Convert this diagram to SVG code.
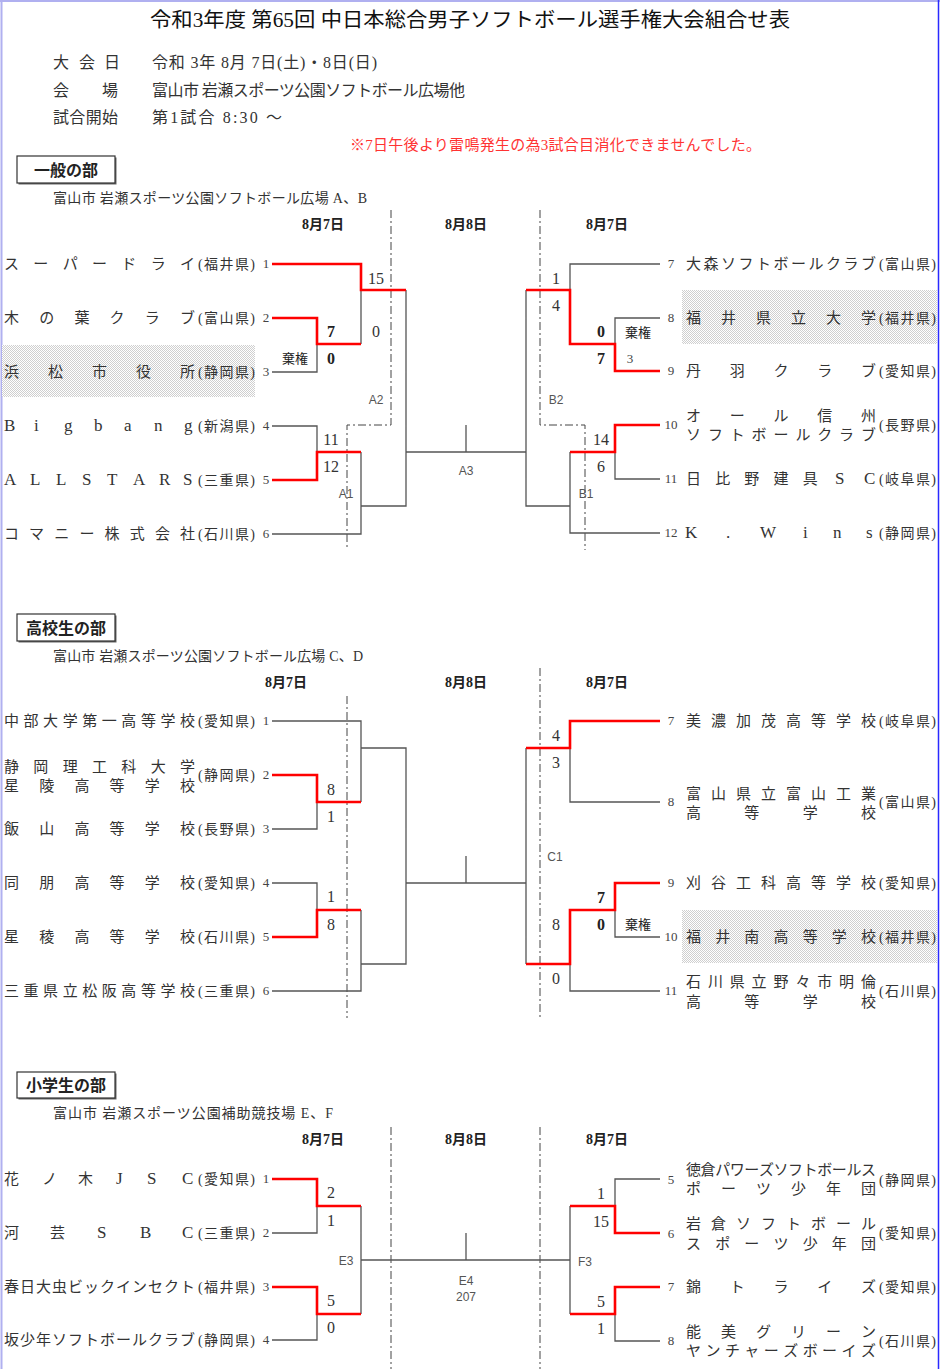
<svg xmlns="http://www.w3.org/2000/svg" width="940" height="1369" viewBox="0 0 940 1369">
<style>
.nm{font-family:"Liberation Serif","Noto Sans CJK JP",serif;font-size:15px;fill:#333}
.lt{font-size:17px}
.pf{font-family:"Liberation Serif","Noto Sans CJK JP",serif;font-size:14px;fill:#333}
.no{font-family:"Liberation Serif",serif;font-size:13px;fill:#444;text-anchor:middle}
.sc{font-family:"Liberation Serif",serif;font-size:16px;fill:#333;text-anchor:middle}
.b{font-weight:bold;fill:#222}
.kk{font-family:"Noto Sans CJK JP",sans-serif;font-size:13px;fill:#222;text-anchor:middle}
.lb{font-family:"Liberation Sans",sans-serif;font-size:12px;fill:#555;text-anchor:middle}
.dt{font-family:"Liberation Serif","Noto Sans CJK JP",serif;font-size:14px;font-weight:bold;fill:#222;text-anchor:middle}
.inf{font-family:"Liberation Serif","Noto Sans CJK JP",serif;font-size:16px;fill:#333}
.ven{font-family:"Liberation Serif","Noto Sans CJK JP",serif;font-size:14px;fill:#333}
.hd{font-family:"Liberation Serif","Noto Sans CJK JP",serif;font-size:16px;font-weight:bold;fill:#222;text-anchor:middle}
.box{fill:#fff;stroke:#333;stroke-width:1.2}
.ln{fill:none;stroke:#555;stroke-width:1.3}
.rd{fill:none;stroke:#f00;stroke-width:2.6}
.dd{fill:none;stroke:#444;stroke-width:1;stroke-dasharray:8 3 2 3}
</style>
<defs>
<pattern id="dots" width="2" height="2" patternUnits="userSpaceOnUse"><rect width="2" height="2" fill="#fff"/><rect width="1" height="1" fill="#cfcfcf"/><rect x="1" y="1" width="1" height="1" fill="#cfcfcf"/></pattern>
</defs>
<rect width="940" height="1369" fill="#fff"/>
<g id="frame">
<line x1="1.5" y1="0" x2="1.5" y2="1369" stroke="#b0b0f0" stroke-width="2"/>
<line x1="0" y1="1" x2="940" y2="1" stroke="#b0b0f0" stroke-width="2"/>
<line x1="938.5" y1="0" x2="938.5" y2="1369" stroke="#2a2aff" stroke-width="1.5"/>
</g>
<g id="title">
<text x="150" y="27" textLength="640" lengthAdjust="spacingAndGlyphs" style="font-family:'Liberation Serif','Noto Sans CJK JP',serif;font-size:20px;fill:#111">令和3年度 第65回 中日本総合男子ソフトボール選手権大会組合せ表</text>
</g>
<g id="info">
<text class="inf" x="53 79 104" y="68">大会日</text>
<text class="inf" x="152" y="68" textLength="225">令和 3年 8月 7日(土)・8日(日)</text>
<text class="inf" x="53 102" y="96">会場</text>
<text class="inf" x="152" y="96" textLength="313">富山市  岩瀬スポーツ公園ソフトボール広場他</text>
<text class="inf" x="53" y="123" textLength="65">試合開始</text>
<text class="inf" x="152" y="123" textLength="130">第1試合  8:30 〜</text>
<text x="350" y="150" textLength="411" style="font-family:'Liberation Serif','Noto Sans CJK JP',serif;font-size:15px;fill:#ff3333">※7日午後より雷鳴発生の為3試合目消化できませんでした。</text>
</g>

<g id="shading">
<rect x="2" y="345" width="253" height="52" fill="url(#dots)"/>
<rect x="682" y="290" width="255" height="54" fill="url(#dots)"/>
<rect x="682" y="910" width="255" height="53" fill="url(#dots)"/>
</g>

<!-- ===== Section 1 ===== -->
<g id="sec1-header">
<rect x="18.5" y="157.5" width="98" height="27" fill="#666"/>
<rect class="box" x="17" y="156" width="98" height="27"/>
<text class="hd" x="66" y="176">一般の部</text>
<text class="ven" x="53" y="203" textLength="314">富山市  岩瀬スポーツ公園ソフトボール広場  A、B</text>
<text class="dt" x="323" y="229">8月7日</text>
<text class="dt" x="466" y="229">8月8日</text>
<text class="dt" x="607" y="229">8月7日</text>
</g>
<g id="connectors-1">
<path class="dd" d="M391 210V425H347V550"/>
<path class="dd" d="M540 210V425H585V550"/>
<path class="ln" d="M361 290V344M272 372H317V344M272 426H317V452M272 534H361V452M361 506H406V290M406 452H526M466 452V425"/>
<path class="ln" d="M660 264H570V290M660 318H615V344M660 479H615V452M570 452V533H660M570 506H526V290"/>
<path class="rd" d="M272 264H361V290H406M272 318H317V344H361M272 480H317V452H361"/>
<path class="rd" d="M526 290H570V344H615V371H660M660 425H615V452H570"/>
</g>
<g id="scores-1">
<text class="sc" x="376" y="284">15</text>
<text class="sc" x="376" y="337">0</text>
<text class="sc b" x="331" y="337">7</text>
<text class="sc b" x="331" y="364">0</text>
<text class="kk" x="295" y="363">棄権</text>
<text class="sc" x="331" y="445">11</text>
<text class="sc" x="331" y="472">12</text>
<text class="lb" x="346" y="498">A1</text>
<text class="lb" x="376" y="404">A2</text>
<text class="lb" x="466" y="475">A3</text>
<text class="sc" x="556" y="284">1</text>
<text class="sc" x="556" y="311">4</text>
<text class="sc b" x="601" y="337">0</text>
<text class="sc b" x="601" y="364">7</text>
<text class="kk" x="638" y="337">棄権</text>
<text class="no" x="630" y="363">3</text>
<text class="sc" x="601" y="445">14</text>
<text class="sc" x="601" y="472">6</text>
<text class="lb" x="586" y="498">B1</text>
<text class="lb" x="556" y="404">B2</text>
</g>
<g id="s1-t1"><text class="nm" x="4 33.3 62.7 92 121.3 150.7 180" y="269">スーパードライ</text><text class="pf" x="198" y="269" textLength="57">(福井県)</text><text class="no" x="266" y="268">1</text></g>
<g id="s1-t2"><text class="nm" x="4 39.2 74.4 109.6 144.8 180" y="323">木の葉クラブ</text><text class="pf" x="198" y="323" textLength="57">(富山県)</text><text class="no" x="266" y="322">2</text></g>
<g id="s1-t3"><text class="nm" x="4 48 92 136 180" y="377">浜松市役所</text><text class="pf" x="198" y="377" textLength="57">(静岡県)</text><text class="no" x="266" y="376">3</text></g>
<g id="s1-t4"><text class="nm lt" x="4 34 64 94 124 154 184" y="431">Bigbang</text><text class="pf" x="198" y="431" textLength="57">(新潟県)</text><text class="no" x="266" y="430">4</text></g>
<g id="s1-t5"><text class="nm lt" x="4 30 56 82 107 133 159 183" y="485">ALLSTARS</text><text class="pf" x="198" y="485" textLength="57">(三重県)</text><text class="no" x="266" y="484">5</text></g>
<g id="s1-t6"><text class="nm" x="4 29.1 54.3 79.4 104.6 129.7 154.9 180" y="539">コマニー株式会社</text><text class="pf" x="198" y="539" textLength="57">(石川県)</text><text class="no" x="266" y="538">6</text></g>
<g id="s1-t7"><text class="no" x="671" y="268">7</text><text class="nm" x="686 703.5 721 738.5 756 773.5 791 808.5 826 843.5 861" y="269">大森ソフトボールクラブ</text><text class="pf" x="879" y="269" textLength="57">(富山県)</text></g>
<g id="s1-t8"><text class="no" x="671" y="322">8</text><text class="nm" x="686 721 756 791 826 861" y="323">福井県立大学</text><text class="pf" x="879" y="323" textLength="57">(福井県)</text></g>
<g id="s1-t9"><text class="no" x="671" y="375">9</text><text class="nm" x="686 729.8 773.5 817.3 861" y="376">丹羽クラブ</text><text class="pf" x="879" y="376" textLength="57">(愛知県)</text></g>
<g id="s1-t10"><text class="no" x="671" y="429">10</text><text class="nm" x="686 729.8 773.5 817.3 861" y="421">オール信州</text><text class="nm" x="686 707.9 729.8 751.6 773.5 795.4 817.3 839.1 861" y="440">ソフトボールクラブ</text><text class="pf" x="879" y="430" textLength="57">(長野県)</text></g>
<g id="s1-t11"><text class="no" x="671" y="483">11</text><text class="nm" x="686 715.2 744.3 773.5 802.7" y="484">日比野建具</text><text class="nm lt" x="835 864" y="484">SC</text><text class="pf" x="879" y="484" textLength="57">(岐阜県)</text></g>
<g id="s1-t12"><text class="no" x="671" y="537">12</text><text class="nm lt" x="685 726 760 803 833 866" y="538">K.Wins</text><text class="pf" x="879" y="538" textLength="57">(静岡県)</text></g>

<!-- ===== Section 2 ===== -->
<g id="sec2-header">
<rect x="18.5" y="615.5" width="98" height="27" fill="#666"/>
<rect class="box" x="17" y="614" width="98" height="27"/>
<text class="hd" x="66" y="634">高校生の部</text>
<text class="ven" x="53" y="661" textLength="310">富山市  岩瀬スポーツ公園ソフトボール広場 C、D</text>
<text class="dt" x="286" y="687">8月7日</text>
<text class="dt" x="466" y="687">8月8日</text>
<text class="dt" x="607" y="687">8月7日</text>
</g>
<g id="connectors-2">
<path class="dd" d="M347 696V1018"/>
<path class="dd" d="M540 668V1018"/>
<path class="ln" d="M272 721H361V802M272 829H317V802M361 748H406V964H361M272 883H317V910M361 910V991H272M406 883H526M466 883V856"/>
<path class="ln" d="M570 748V802H660M526 748V964M660 937H615V910M570 964V991H660"/>
<path class="rd" d="M272 775H317V802H361M272 937H317V910H361"/>
<path class="rd" d="M660 721H570V748H526M660 883H615V910H570V964H526"/>
</g>
<g id="scores-2">
<text class="sc" x="331" y="795">8</text>
<text class="sc" x="331" y="822">1</text>
<text class="sc" x="331" y="902">1</text>
<text class="sc" x="331" y="930">8</text>
<text class="sc" x="556" y="741">4</text>
<text class="sc" x="556" y="768">3</text>
<text class="sc b" x="601" y="903">7</text>
<text class="sc b" x="601" y="930">0</text>
<text class="kk" x="638" y="929">棄権</text>
<text class="sc" x="556" y="930">8</text>
<text class="sc" x="556" y="984">0</text>
<text class="lb" x="555" y="861">C1</text>
</g>
<g id="s2-t1"><text class="nm" x="4 23.6 43.1 62.7 82.2 101.8 121.3 140.9 160.4 180" y="726">中部大学第一高等学校</text><text class="pf" x="198" y="726" textLength="57">(愛知県)</text><text class="no" x="266" y="725">1</text></g>
<g id="s2-t2"><text class="nm" x="4 33.3 62.7 92 121.3 150.7 180" y="772">静岡理工科大学</text><text class="nm" x="4 39.2 74.4 109.6 144.8 180" y="791">星陵高等学校</text><text class="pf" x="198" y="780" textLength="57">(静岡県)</text><text class="no" x="266" y="779">2</text></g>
<g id="s2-t3"><text class="nm" x="4 39.2 74.4 109.6 144.8 180" y="834">飯山高等学校</text><text class="pf" x="198" y="834" textLength="57">(長野県)</text><text class="no" x="266" y="833">3</text></g>
<g id="s2-t4"><text class="nm" x="4 39.2 74.4 109.6 144.8 180" y="888">同朋高等学校</text><text class="pf" x="198" y="888" textLength="57">(愛知県)</text><text class="no" x="266" y="887">4</text></g>
<g id="s2-t5"><text class="nm" x="4 39.2 74.4 109.6 144.8 180" y="942">星稜高等学校</text><text class="pf" x="198" y="942" textLength="57">(石川県)</text><text class="no" x="266" y="941">5</text></g>
<g id="s2-t6"><text class="nm" x="4 23.6 43.1 62.7 82.2 101.8 121.3 140.9 160.4 180" y="996">三重県立松阪高等学校</text><text class="pf" x="198" y="996" textLength="57">(三重県)</text><text class="no" x="266" y="995">6</text></g>
<g id="s2-t7"><text class="no" x="671" y="725">7</text><text class="nm" x="686 711 736 761 786 811 836 861" y="726">美濃加茂高等学校</text><text class="pf" x="879" y="726" textLength="57">(岐阜県)</text></g>
<g id="s2-t8"><text class="no" x="671" y="806">8</text><text class="nm" x="686 711 736 761 786 811 836 861" y="799">富山県立富山工業</text><text class="nm" x="686 744.3 802.7 861" y="818">高等学校</text><text class="pf" x="879" y="807" textLength="57">(富山県)</text></g>
<g id="s2-t9"><text class="no" x="671" y="887">9</text><text class="nm" x="686 711 736 761 786 811 836 861" y="888">刈谷工科高等学校</text><text class="pf" x="879" y="888" textLength="57">(愛知県)</text></g>
<g id="s2-t10"><text class="no" x="671" y="941">10</text><text class="nm" x="686 715.2 744.3 773.5 802.7 831.8 861" y="942">福井南高等学校</text><text class="pf" x="879" y="942" textLength="57">(福井県)</text></g>
<g id="s2-t11"><text class="no" x="671" y="995">11</text><text class="nm" x="686 707.9 729.8 751.6 773.5 795.4 817.3 839.1 861" y="987">石川県立野々市明倫</text><text class="nm" x="686 744.3 802.7 861" y="1007">高等学校</text><text class="pf" x="879" y="996" textLength="57">(石川県)</text></g>

<!-- ===== Section 3 ===== -->
<g id="sec3-header">
<rect x="18.5" y="1073.5" width="98" height="26" fill="#666"/>
<rect class="box" x="17" y="1072" width="98" height="26"/>
<text class="hd" x="66" y="1091">小学生の部</text>
<text class="ven" x="53" y="1118" textLength="280">富山市  岩瀬スポーツ公園補助競技場  E、F</text>
<text class="dt" x="323" y="1144">8月7日</text>
<text class="dt" x="466" y="1144">8月8日</text>
<text class="dt" x="607" y="1144">8月7日</text>
</g>
<g id="connectors-3">
<path class="dd" d="M391 1127V1369"/>
<path class="dd" d="M540 1127V1369"/>
<path class="ln" d="M272 1233H317V1206M361 1206V1314M272 1340H317V1314M361 1260H570M466 1260V1233"/>
<path class="ln" d="M660 1179H615V1206M570 1206V1314M660 1341H615V1314"/>
<path class="rd" d="M272 1179H317V1206H361M272 1287H317V1314H361"/>
<path class="rd" d="M570 1206H615V1233H660M660 1287H615V1314H570"/>
</g>
<g id="scores-3">
<text class="sc" x="331" y="1198">2</text>
<text class="sc" x="331" y="1226">1</text>
<text class="sc" x="331" y="1306">5</text>
<text class="sc" x="331" y="1333">0</text>
<text class="lb" x="346" y="1265">E3</text>
<text class="lb" x="466" y="1285">E4</text>
<text class="lb" x="466" y="1301">207</text>
<text class="sc" x="601" y="1199">1</text>
<text class="sc" x="601" y="1227">15</text>
<text class="lb" x="585" y="1266">F3</text>
<text class="sc" x="601" y="1307">5</text>
<text class="sc" x="601" y="1334">1</text>
</g>
<g id="s3-t1"><text class="nm" x="4 42 78" y="1184">花ノ木</text><text class="nm lt" x="116 147 182" y="1184">JSC</text><text class="pf" x="198" y="1184" textLength="57">(愛知県)</text><text class="no" x="266" y="1183">1</text></g>
<g id="s3-t2"><text class="nm" x="4 50" y="1238">河芸</text><text class="nm lt" x="97 140 182" y="1238">SBC</text><text class="pf" x="198" y="1238" textLength="57">(三重県)</text><text class="no" x="266" y="1237">2</text></g>
<g id="s3-t3"><text class="nm" x="4 20 36 52 68 84 100 116 132 148 164 180" y="1292">春日大虫ビックインセクト</text><text class="pf" x="198" y="1292" textLength="57">(福井県)</text><text class="no" x="266" y="1291">3</text></g>
<g id="s3-t4"><text class="nm" x="4 20 36 52 68 84 100 116 132 148 164 180" y="1345">坂少年ソフトボールクラブ</text><text class="pf" x="198" y="1345" textLength="57">(静岡県)</text><text class="no" x="266" y="1344">4</text></g>
<g id="s3-t5"><text class="no" x="671" y="1184">5</text><text class="nm" x="686 700.6 715.2 729.8 744.3 758.9 773.5 788.1 802.7 817.3 831.8 846.4 861" y="1175">徳倉パワーズソフトボールス</text><text class="nm" x="686 721 756 791 826 861" y="1194">ポーツ少年団</text><text class="pf" x="879" y="1185" textLength="57">(静岡県)</text></g>
<g id="s3-t6"><text class="no" x="671" y="1238">6</text><text class="nm" x="686 711 736 761 786 811 836 861" y="1229">岩倉ソフトボール</text><text class="nm" x="686 715.2 744.3 773.5 802.7 831.8 861" y="1249">スポーツ少年団</text><text class="pf" x="879" y="1238" textLength="57">(愛知県)</text></g>
<g id="s3-t7"><text class="no" x="671" y="1291">7</text><text class="nm" x="686 729.8 773.5 817.3 861" y="1292">錦トライズ</text><text class="pf" x="879" y="1292" textLength="57">(愛知県)</text></g>
<g id="s3-t8"><text class="no" x="671" y="1345">8</text><text class="nm" x="686 721 756 791 826 861" y="1337">能美グリーン</text><text class="nm" x="686 705.4 724.9 744.3 763.8 783.2 802.7 822.1 841.6 861" y="1356">ヤンチャーズボーイズ</text><text class="pf" x="879" y="1346" textLength="57">(石川県)</text></g>
</svg>
